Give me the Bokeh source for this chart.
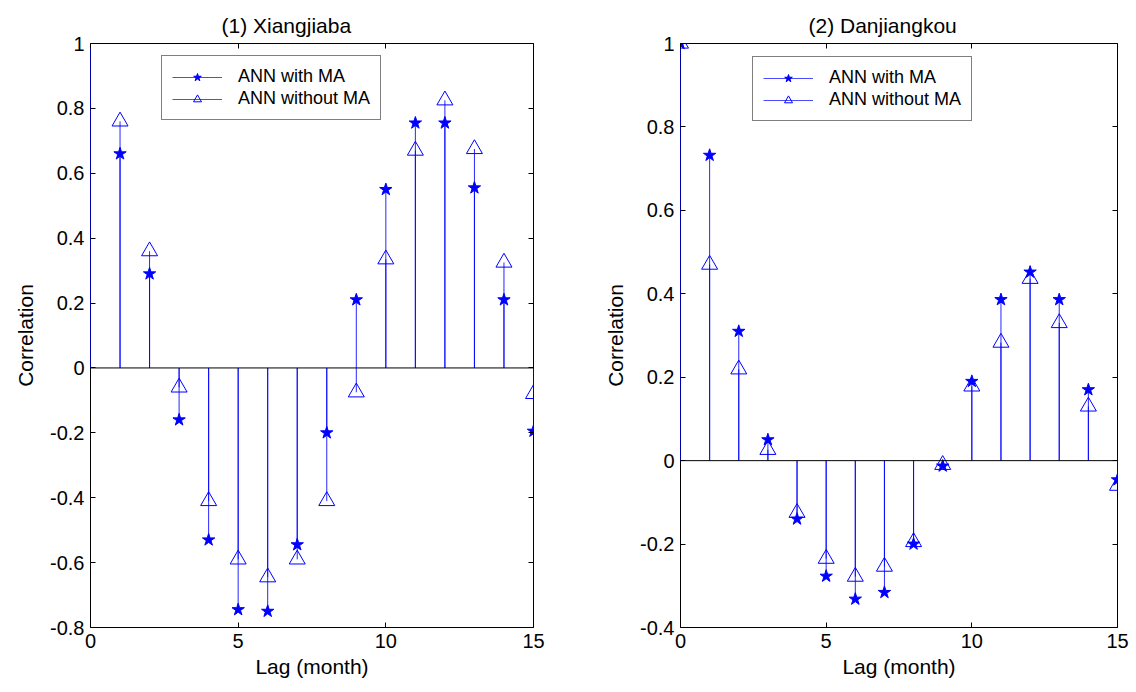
from bokeh.plotting import figure
from bokeh.models import Span, Legend, LegendItem, LinearAxis, FixedTicker
from bokeh.layouts import row
from bokeh.embed import file_html
from bokeh.resources import INLINE

lags = list(range(0, 16))

# Panel 1: Xiangjiaba
xj_with_ma = [1.0, 0.66, 0.29, -0.16, -0.53, -0.745, -0.75, -0.545, -0.2, 0.21, 0.55, 0.755, 0.755, 0.555, 0.21, -0.195]
xj_without_ma = [1.0, 0.76, 0.36, -0.06, -0.41, -0.59, -0.645, -0.59, -0.41, -0.075, 0.335, 0.67, 0.825, 0.675, 0.325, -0.08]

# Panel 2: Danjiangkou
dj_with_ma = [1.0, 0.732, 0.31, 0.05, -0.14, -0.277, -0.332, -0.316, -0.2, -0.013, 0.19, 0.386, 0.452, 0.386, 0.17, -0.046]
dj_without_ma = [1.0, 0.47, 0.219, 0.026, -0.125, -0.235, -0.278, -0.254, -0.195, -0.01, 0.178, 0.283, 0.436, 0.33, 0.13, -0.06]

x_ticks = [0, 5, 10, 15]
y_ticks_1 = [-0.8, -0.6, -0.4, -0.2, 0, 0.2, 0.4, 0.6, 0.8, 1]
y_ticks_2 = [-0.4, -0.2, 0, 0.2, 0.4, 0.6, 0.8, 1]

FONT = "Liberation Sans"
BLUE = "#0000FF"


def fmt(v):
    return f"{v:g}"


def style_axis(ax, ticks, show_labels=True):
    ax.ticker = FixedTicker(ticks=ticks)
    ax.major_tick_in = 5
    ax.major_tick_out = 0
    ax.minor_tick_line_color = None
    ax.axis_line_color = None
    ax.major_tick_line_color = "black"
    ax.major_label_text_font = FONT
    ax.major_label_text_font_size = "20px" if show_labels else "0px"
    ax.major_label_text_color = "black"
    ax.major_label_overrides = {v: (fmt(v) if show_labels else "") for v in ticks}
    ax.major_label_standoff = 6 if show_labels else 0


def make_panel(width, height, borders, y_range, y_ticks, with_ma, without_ma,
               marker_start, title, title_offset, leg_loc):
    bl, br, bt, bb = borders
    p = figure(width=width, height=height, x_range=(0, 15), y_range=y_range,
               output_backend="svg", toolbar_location=None,
               min_border_left=bl, min_border_right=br,
               min_border_top=bt, min_border_bottom=bb)
    p.xgrid.visible = False
    p.ygrid.visible = False
    p.outline_line_color = "black"
    p.outline_line_width = 1
    p.background_fill_color = "white"
    p.border_fill_color = "white"

    p.title.text = title
    p.title.text_font = FONT
    p.title.text_font_size = "21px"
    p.title.text_font_style = "normal"
    p.title.text_color = "black"
    p.title.align = "left"
    p.title.offset = title_offset
    p.title.standoff = 14

    style_axis(p.xaxis[0], x_ticks)
    style_axis(p.yaxis[0], y_ticks)
    p.xaxis.axis_label = "Lag (month)"
    p.yaxis.axis_label = "Correlation"
    for ax in (p.xaxis[0], p.yaxis[0]):
        ax.axis_label_text_font = FONT
        ax.axis_label_text_font_size = "21px"
        ax.axis_label_text_font_style = "normal"
        ax.axis_label_text_color = "black"
    p.xaxis[0].axis_label_standoff = 4
    p.yaxis[0].axis_label_standoff = 10

    top_ax = LinearAxis()
    right_ax = LinearAxis()
    style_axis(top_ax, x_ticks, show_labels=False)
    style_axis(right_ax, y_ticks, show_labels=False)
    p.add_layout(top_ax, "above")
    p.add_layout(right_ax, "right")

    p.add_layout(Span(location=0, dimension="width", line_color="black", line_width=1))

    # stems
    p.segment(x0=lags, y0=[0] * len(lags), x1=lags, y1=without_ma,
              line_color=BLUE, line_width=1, line_alpha=0.85)
    p.segment(x0=lags, y0=[0] * len(lags), x1=lags, y1=with_ma,
              line_color=BLUE, line_width=1, line_alpha=0.85)

    xs = lags[marker_start:]
    tri = p.scatter(x=xs, y=without_ma[marker_start:], marker="triangle", size=16,
                    fill_color=None, line_color=BLUE, line_width=1)
    star = p.scatter(x=xs, y=with_ma[marker_start:], marker="star", size=13,
                     fill_color=BLUE, line_color=BLUE, line_width=1)

    # legend proxies
    l1 = p.line(x=[None], y=[None], line_color=BLUE, line_width=1, line_alpha=0.7)
    legend = Legend(items=[LegendItem(label="ANN with MA", renderers=[l1, star]),
                           LegendItem(label="ANN without MA", renderers=[l1, tri])],
                    location=leg_loc)
    legend.border_line_color = "black"
    legend.border_line_width = 1
    legend.background_fill_color = "white"
    legend.background_fill_alpha = 1
    legend.label_text_font = FONT
    legend.label_text_font_size = "18px"
    legend.label_text_color = "black"
    legend.glyph_width = 50
    legend.glyph_height = 20
    legend.label_height = 20
    legend.spacing = 1
    legend.padding = 10
    legend.margin = 0
    legend.label_standoff = 16
    p.add_layout(legend)
    return p


p1 = make_panel(590, 692, (90, 57, 43, 65), (-0.8, 1.0), y_ticks_1,
                xj_with_ma, xj_without_ma, 1, "(1)  Xiangjiaba", 131, (71, 507))
p2 = make_panel(546, 692, (90, 19, 41, 64), (-0.4, 1.0), y_ticks_2,
                dj_with_ma, dj_without_ma, 0, "(2)  Danjiangkou", 128, (72, 506))

layout = row(p1, p2)
open("out.html", "w").write(file_html(layout, INLINE))
